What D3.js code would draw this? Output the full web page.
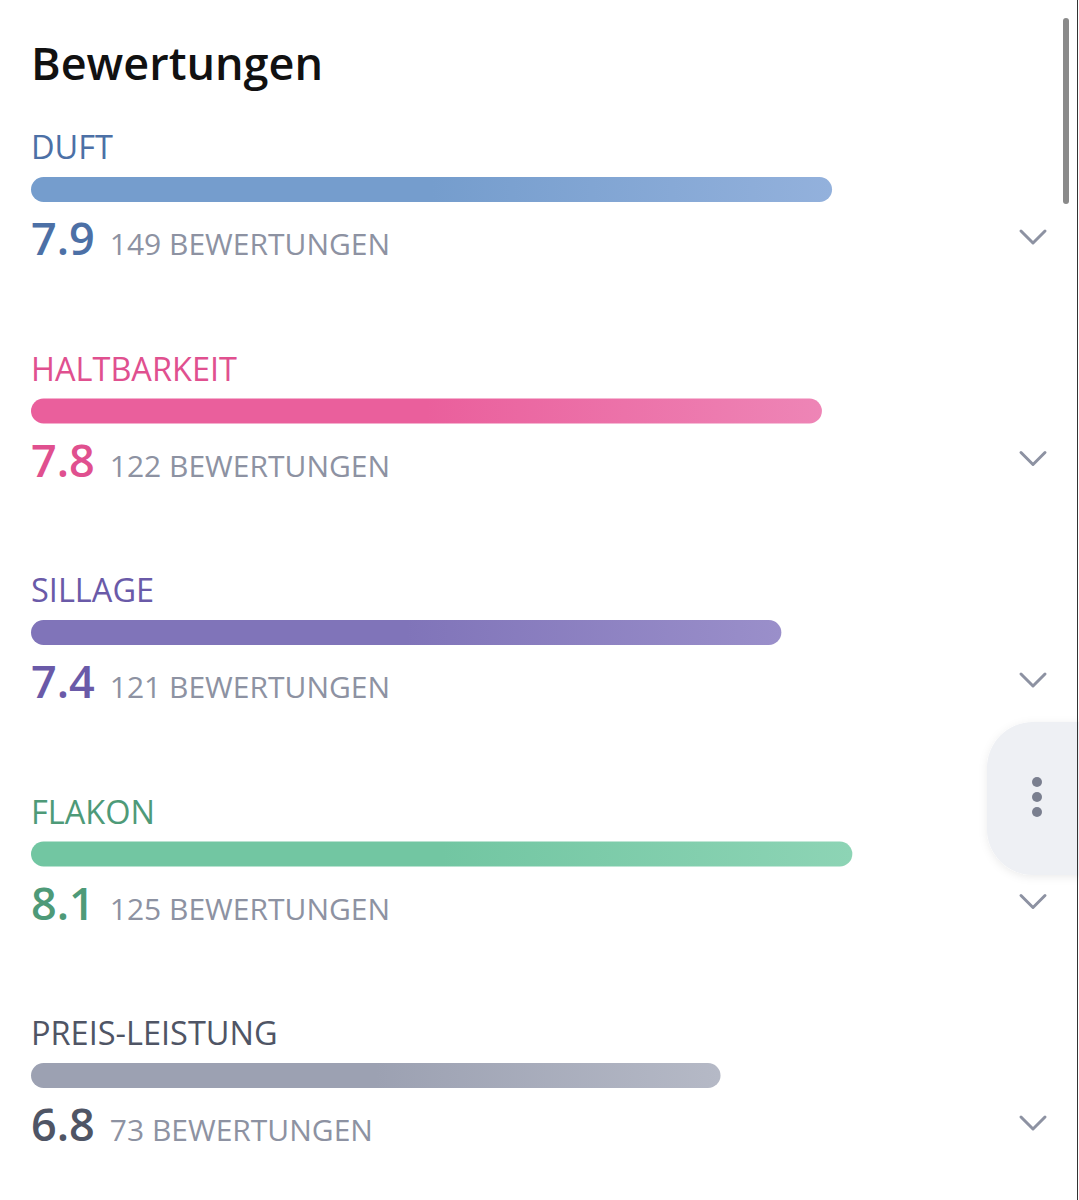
<!DOCTYPE html>
<html lang="de">
    <head>
        <meta charset="utf-8">
        <title>Bewertungen</title>
        <script src="https://d3js.org/d3.v7.min.js"></script>
        <style>
            body { margin: 0; background: #fff; }
            svg { display: block; font-family: "Open Sans", "Noto Sans", sans-serif; }
        </style>
    </head>

    <body>
        <div id="chart"></div>

        <script>

            // data
            var categories = ["DUFT", "HALTBARKEIT", "SILLAGE", "FLAKON", "PREIS-LEISTUNG"];
            var scores = [7.9, 7.8, 7.4, 8.1, 6.8];
            var counts = [149, 122, 121, 125, 73];

            // styles per row
            var textColors = ["#4c70a6", "#e0508f", "#6a5aa8", "#4e9a78", "#4f5565"];
            var barStart = ["#759dcd", "#ea5f9c", "#8074b9", "#72c6a2", "#9ca1b2"];
            var barEnd = ["#93b1dc", "#ee85b6", "#9a8fca", "#8dd4b5", "#b5b9c6"];

            var width = 1079;
            var height = 1200;

            var svg = d3.select("#chart")
                        .append("svg")
                        .attr("width", width)
                        .attr("height", height);

            var defs = svg.append("defs");

            //gradients for the bars
            categories.forEach(function(c, i){
                var g = defs.append("linearGradient")
                    .attr("id", "grad" + i)
                    .attr("x1", "0%").attr("x2", "100%")
                    .attr("y1", "0%").attr("y2", "0%");
                g.append("stop").attr("offset", "0%").attr("stop-color", barStart[i]);
                g.append("stop").attr("offset", "50%").attr("stop-color", barStart[i]);
                g.append("stop").attr("offset", "100%").attr("stop-color", barEnd[i]);
            });

            var shadow = defs.append("filter")
                .attr("id", "shadow")
                .attr("x", "-30%").attr("y", "-30%")
                .attr("width", "160%").attr("height", "160%");
            shadow.append("feDropShadow")
                .attr("dx", 0).attr("dy", 2)
                .attr("stdDeviation", 4)
                .attr("flood-color", "#000")
                .attr("flood-opacity", 0.08);

            //title
            svg.append("text")
                .attr("x", 31)
                .attr("y", 80)
                .attr("font-size", 45)
                .attr("font-weight", 600)
                .attr("fill", "#111")
                .text("Bewertungen");

            var x = d3.scaleLinear()
                      .domain([0, 10])
                      .range([31, 1045]);

            var y = d3.scalePoint()
                      .domain(categories)
                      .range([0, 4 * 221.5]);

            var rows = svg.selectAll(".row")
                          .data(categories)
                          .enter()
                          .append("g")
                          .attr("class", "row")
                          .attr("transform", function(d){
                              return "translate(0," + y(d) + ")";
                          });

            rows.append("text")
                .attr("x", 31)
                .attr("y", 159)
                .attr("font-size", 32.5)
                .attr("fill", function(d, i){ return textColors[i]; })
                .text(function(d){ return d; });

            rows.append("rect")
                .attr("x", x(0))
                .attr("y", 177)
                .attr("height", 25)
                .attr("rx", 12.5)
                .attr("width", function(d, i){ return x(scores[i]) - x(0); })
                .attr("fill", function(d, i){ return "url(#grad" + i + ")"; });

            var values = rows.append("text")
                .attr("x", 31)
                .attr("y", 255)
                .attr("font-size", 45)
                .attr("font-weight", 600)
                .attr("fill", function(d, i){ return textColors[i]; })
                .text(function(d, i){ return d3.format(".1f")(scores[i]); });

            rows.append("text")
                .attr("x", function(d, i){
                    return 31 + values.nodes()[i].getComputedTextLength() + 15;
                })
                .attr("y", 255)
                .attr("font-size", 30)
                .attr("fill", "#8d92a2")
                .text(function(d, i){ return counts[i] + " BEWERTUNGEN"; });

            //chevrons
            rows.append("path")
                .attr("d", "M1021,231 L1033,243 L1045,231")
                .attr("fill", "none")
                .attr("stroke", "#8d92a2")
                .attr("stroke-width", 3)
                .attr("stroke-linecap", "round")
                .attr("stroke-linejoin", "round");

            //floating menu button
            svg.append("rect")
                .attr("x", 987)
                .attr("y", 722)
                .attr("width", 140)
                .attr("height", 153)
                .attr("rx", 46)
                .attr("fill", "#eef0f4")
                .attr("filter", "url(#shadow)");

            svg.selectAll(".dot")
                .data([782, 797, 812])
                .enter()
                .append("circle")
                .attr("class", "dot")
                .attr("cx", 1037)
                .attr("cy", function(d){ return d; })
                .attr("r", 5)
                .attr("fill", "#7a7f8f");

            //scrollbar
            svg.append("rect")
                .attr("x", 1063)
                .attr("y", 18)
                .attr("width", 6)
                .attr("height", 186)
                .attr("rx", 3)
                .attr("fill", "#8a8a8a");

            svg.append("line")
                .attr("x1", 1077.5).attr("x2", 1077.5)
                .attr("y1", 0).attr("y2", height)
                .attr("stroke", "#333")
                .attr("stroke-width", 1);

        </script>
    </body>
</html>
